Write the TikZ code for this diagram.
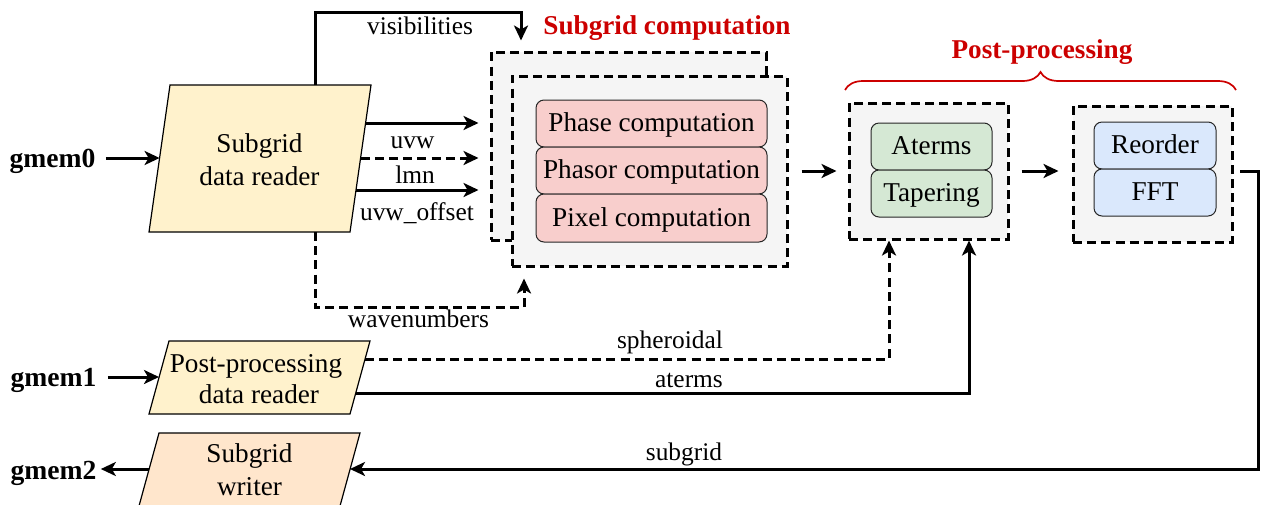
\documentclass[tikz,border=0pt]{standalone}
\usepackage{fontspec}
\setmainfont{Liberation Serif}
\usetikzlibrary{arrows.meta,decorations.pathreplacing}

\definecolor{grpfill}{HTML}{F5F5F5}
\definecolor{readerfill}{HTML}{FFF2CC}
\definecolor{writerfill}{HTML}{FFE6CC}
\definecolor{pinkfill}{HTML}{F8CECC}
\definecolor{greenfill}{HTML}{D5E8D4}
\definecolor{bluefill}{HTML}{DAE8FC}
\definecolor{titlered}{HTML}{CC0000}

\tikzset{
  boxtxt/.style={font=\fontsize{13.6pt}{16pt}\selectfont, anchor=base, inner sep=0pt},
  lbl/.style={font=\fontsize{12.7pt}{15pt}\selectfont, anchor=base, inner sep=0pt},
  memlbl/.style={font=\fontsize{13.8pt}{16pt}\selectfont\bfseries, anchor=base, inner sep=0pt},
  grptitle/.style={font=\fontsize{13.6pt}{16pt}\selectfont\bfseries, text=titlered, anchor=base, inner sep=0pt},
  grp/.style={draw=black, fill=grpfill, line width=1.5pt, dash pattern=on 4.5pt off 2.6pt, inner sep=0pt},
  stage/.style={draw=black!85, line width=0.5pt, rounded corners=4pt, inner sep=0pt,
    font=\fontsize{13.6pt}{16pt}\selectfont, text height=0.95em, text depth=0.11em},
  iobox/.style={draw=black, line width=0.6pt},
  flow/.style={line width=1.5pt, -{Stealth[length=7.5pt,width=7pt,inset=2pt]}},
  flowd/.style={flow, dash pattern=on 4.5pt off 2.6pt},
}

\begin{document}
\begin{tikzpicture}[x=0.5pt,y=-0.5pt]
\useasboundingbox (0,0) rectangle (1261,504);

% ---------- subgrid computation (two stacked dashed frames) ----------
\node[grp, minimum width=137.5pt, minimum height=94pt] (back) at (628.5,146) {};
\node[grp, minimum width=137.5pt, minimum height=95pt] (front) at (649.5,171) {};
\node[stage, fill=pinkfill, minimum width=115.5pt, minimum height=23.5pt] (phase) at (651.5,123.5) {Phase computation};
\node[stage, fill=pinkfill, minimum width=115.5pt, minimum height=23.5pt] (phasor) at (651.5,170.5) {Phasor computation};
\node[stage, fill=pinkfill, minimum width=115.5pt, minimum height=24pt] (pixel) at (651.5,218) {Pixel computation};
\node[grptitle] (sgtitle) at (667,34) {Subgrid computation};

% ---------- post-processing ----------
\node[grp, minimum width=79.5pt, minimum height=68pt] (pp1) at (928.5,171) {};
\node[stage, fill=greenfill, minimum width=60.5pt, minimum height=23.5pt] (aterms) at (931.5,146.5) {Aterms};
\node[stage, fill=greenfill, minimum width=60.5pt, minimum height=23.5pt] (taper) at (931.5,193.5) {Tapering};

\node[grp, minimum width=79.5pt, minimum height=68pt] (pp2) at (1152.5,174) {};
\node[stage, fill=bluefill, minimum width=61pt, minimum height=23.5pt] (reorder) at (1155,145.5) {Reorder};
\node[stage, fill=bluefill, minimum width=61pt, minimum height=23.5pt] (fft) at (1155,192.5) {FFT};

\coordinate (brL) at (845,90);
\coordinate (brR) at (1236,90);
\draw[titlered, line width=0.85pt, decorate, decoration={brace, amplitude=9pt}] (brL) -- (brR);
\node[grptitle] (pptitle) at (1042,58) {Post-processing};

% ---------- readers and writer ----------
\draw[iobox, fill=readerfill] (170,85) -- (371,85) -- (350,232) -- (149,232) -- cycle;
\node[boxtxt] (sdr1) at (259.5,152) {Subgrid};
\node[boxtxt] (sdr2) at (259.5,185) {data reader};

\draw[iobox, fill=readerfill] (169,341) -- (370,341) -- (350,414) -- (149,414) -- cycle;
\node[boxtxt] (ppr1) at (256,372) {Post-processing};
\node[boxtxt] (ppr2) at (259,403) {data reader};

\draw[iobox, fill=writerfill] (159,433) -- (360,433) -- (340,506) -- (139,506) -- cycle;
\node[boxtxt] (wr1) at (249.5,462) {Subgrid};
\node[boxtxt] (wr2) at (249.5,495) {writer};

% connection points on the slanted edges
\coordinate (sdrT) at (315,85);
\coordinate (sdrB) at (315,232);
\coordinate (sdrL) at (159.6,158);
\coordinate (sdrR1) at (365.6,123);
\coordinate (sdrR2) at (360.6,158);
\coordinate (sdrR3) at (356,190);
\coordinate (pprL) at (159,377);
\coordinate (pprR1) at (365,359);
\coordinate (pprR2) at (356,393);
\coordinate (wrL) at (149,469);
\coordinate (wrR) at (350,469);

% ---------- memory labels ----------
\node[memlbl] (g0) at (52.5,167) {gmem0};
\node[memlbl] (g1) at (53.5,386) {gmem1};
\node[memlbl] (g2) at (53.5,479) {gmem2};

\draw[flow, shorten <=5pt] (g0.east |- sdrL) -- (sdrL);
\draw[flow, shorten <=5.5pt] (g1.east |- pprL) -- (pprL);
\draw[flow, shorten >=2pt] (wrL) -- (wrL -| g2.east);

% ---------- reader outputs ----------
\draw[flow, shorten >=5.5pt] (sdrR1) -- (sdrR1 -| back.west);
\draw[flowd, shorten >=5.5pt] (sdrR2) -- (sdrR2 -| back.west);
\draw[flow, shorten >=5.5pt] (sdrR3) -- (sdrR3 -| back.west);
\node[lbl] (l-uvw) at (412.5,148.5) {uvw};
\node[lbl] (l-lmn) at (415,183) {lmn};
\node[lbl] (l-off) at (417,220.5) {uvw\_offset};

\coordinate (visK) at (521,12);
\draw[flow, shorten >=5pt] (sdrT) |- (visK) -- (visK |- back.north);
\node[lbl] (l-vis) at (420,34) {visibilities};

\coordinate (wavK) at (524,307);
\draw[flowd, shorten >=5.5pt] (sdrB) |- (wavK) -- (wavK |- front.south);
\node[lbl] (l-wav) at (418.5,327) {wavenumbers};

\coordinate (sphK) at (889,359);
\draw[flowd] (pprR1) -- (sphK) -- (sphK |- pp1.south);
\node[lbl] (l-sph) at (670,348) {spheroidal};

\coordinate (atK) at (969,393);
\draw[flow] (pprR2) -- (atK) -- (atK |- pp1.south);
\node[lbl] (l-at) at (689,387) {aterms};

% ---------- stage to stage ----------
\draw[flow, shorten <=6.5pt, shorten >=5.5pt] (front.east) -- (pp1.west);
\draw[flow, shorten <=6pt, shorten >=6.5pt] (pp1.east) -- (pp1.east -| pp2.west);

\coordinate (sgOut) at (1240,171);
\coordinate (sgK) at (1258,171);
\draw[flow] (sgOut) -- (sgK) |- (wrR);
\node[lbl] (l-sg) at (684,460) {subgrid};

\end{tikzpicture}
\end{document}
